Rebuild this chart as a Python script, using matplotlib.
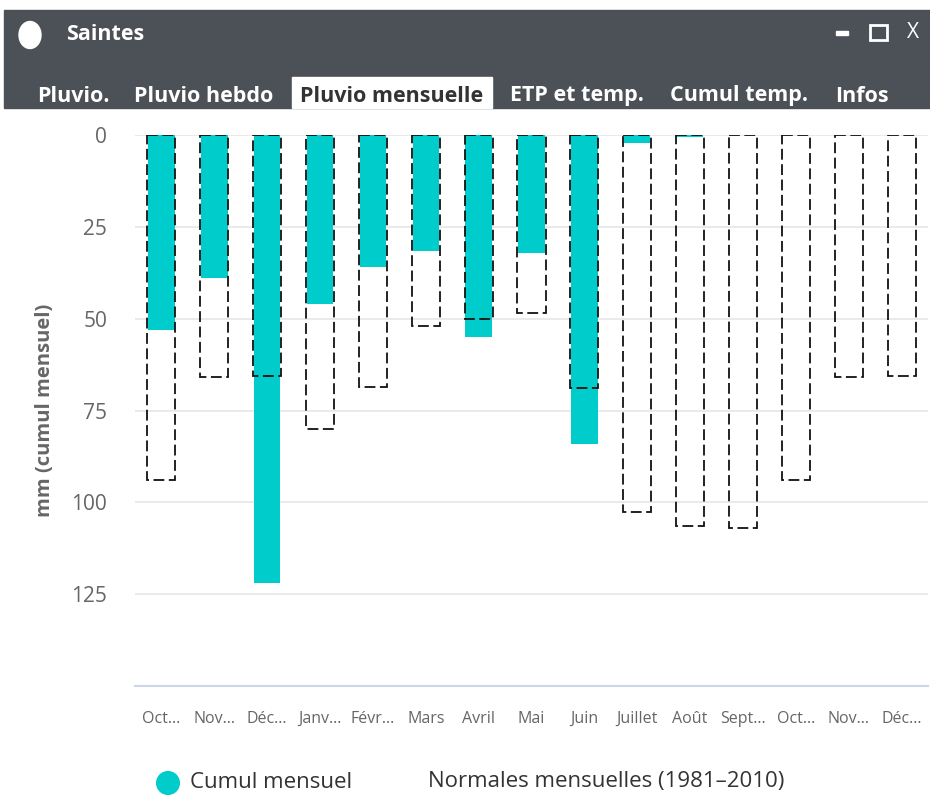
import numpy as np
import matplotlib
matplotlib.use("Agg")
import matplotlib.pyplot as plt
from matplotlib.patches import Rectangle, Ellipse

plt.rcParams['font.family'] = ['Open Sans', 'DejaVu Sans']

# ─── DATA ───────────────────────────────────────────────────────────────────
months = ["Oct…", "Nov…", "Déc…", "Janv…", "Févr…", "Mars", "Avril", "Mai",
          "Juin", "Juillet", "Août", "Sept…", "Oct…", "Nov…", "Déc…"]
cumul = [53, 39, 122, 46, 36, 31.5, 55, 32, 84, 2.2, 0.6, 0, 0, 0, 0]
normales = [94, 66, 65.5, 80, 68.5, 52, 50, 48.5, 69, 102.5, 106.5, 107, 94, 66, 65.5]
tabs = ["Pluvio.", "Pluvio hebdo", "Pluvio mensuelle", "ETP et temp.", "Cumul temp.", "Infos"]
tab_x = [37, 134, 300, 510, 670, 835]
active_tab = 2

W, H = 930, 796
fig = plt.figure(figsize=(W / 100, H / 100), dpi=100)

# background / window chrome in pixel coordinates
bg = fig.add_axes([0, 0, 1, 1], zorder=0)
bg.set_xlim(0, W)
bg.set_ylim(H, 0)
bg.axis('off')
bg.add_patch(Rectangle((4, 10), W - 4, 98, color='#4b5157'))
bg.add_patch(Ellipse((30, 35), 22, 27, color='white'))
bg.text(66, 35, "Saintes", color='white', fontsize=15.5, fontweight='bold', va='center')
bg.add_patch(Rectangle((836, 31), 12, 4, color='white'))
bg.add_patch(Rectangle((870, 25), 17, 15, fill=False, edgecolor='white', lw=2))
bg.text(913, 32, "X", color='white', fontsize=15, va='center', ha='center')
bg.add_patch(Rectangle((292, 77), 200, 31, color='white'))
for i, (t, x) in enumerate(zip(tabs, tab_x)):
    bg.text(x, 96, t, color='#333333' if i == active_tab else 'white',
            fontsize=15.5, fontweight='bold', va='center', ha='left')

# legend
bg.scatter([168], [783], s=300, color='#00cccc', edgecolor='none')
bg.text(190, 782, "Cumul mensuel", fontsize=16, color='#333333', va='center')
bg.text(428, 782, "Normales mensuelles (1981–2010)", fontsize=16, color='#333333', va='center')

# ─── CHART ──────────────────────────────────────────────────────────────────
left, right, top, bottom = 135, 928, 135, 686
ax = fig.add_axes([left / W, 1 - bottom / H, (right - left) / W, (bottom - top) / H], zorder=1)
ax.patch.set_alpha(0)
x = np.arange(len(months))
ax.bar(x, cumul, width=0.5, color='#00cccc', zorder=2)
ax.bar(x, normales, width=0.53, fill=False, edgecolor='#111111', linestyle=(0, (6, 2.5)),
       linewidth=1.3, zorder=3)

ax.set_xlim(-0.5, len(months) - 0.5)
ax.set_ylim(150, 0)
ax.set_yticks([0, 25, 50, 75, 100, 125])
ax.set_xticks(x)
ax.set_xticklabels(months)
ax.grid(axis='y', color='#e6e6e6', linewidth=1.2, zorder=0)
ax.set_axisbelow(True)
for s in ['left', 'right', 'top']:
    ax.spines[s].set_visible(False)
ax.spines['bottom'].set_color('#ccd6eb')
ax.spines['bottom'].set_linewidth(1.5)
ax.tick_params(axis='y', length=0, pad=20, labelsize=15, labelcolor='#666666')
ax.tick_params(axis='x', length=0, pad=18, labelsize=11.5, labelcolor='#666666')
ax.set_ylabel("mm (cumul mensuel)", fontsize=14.5, fontweight='bold', color='#666666', labelpad=12)

plt.savefig("out.png", dpi=100)
